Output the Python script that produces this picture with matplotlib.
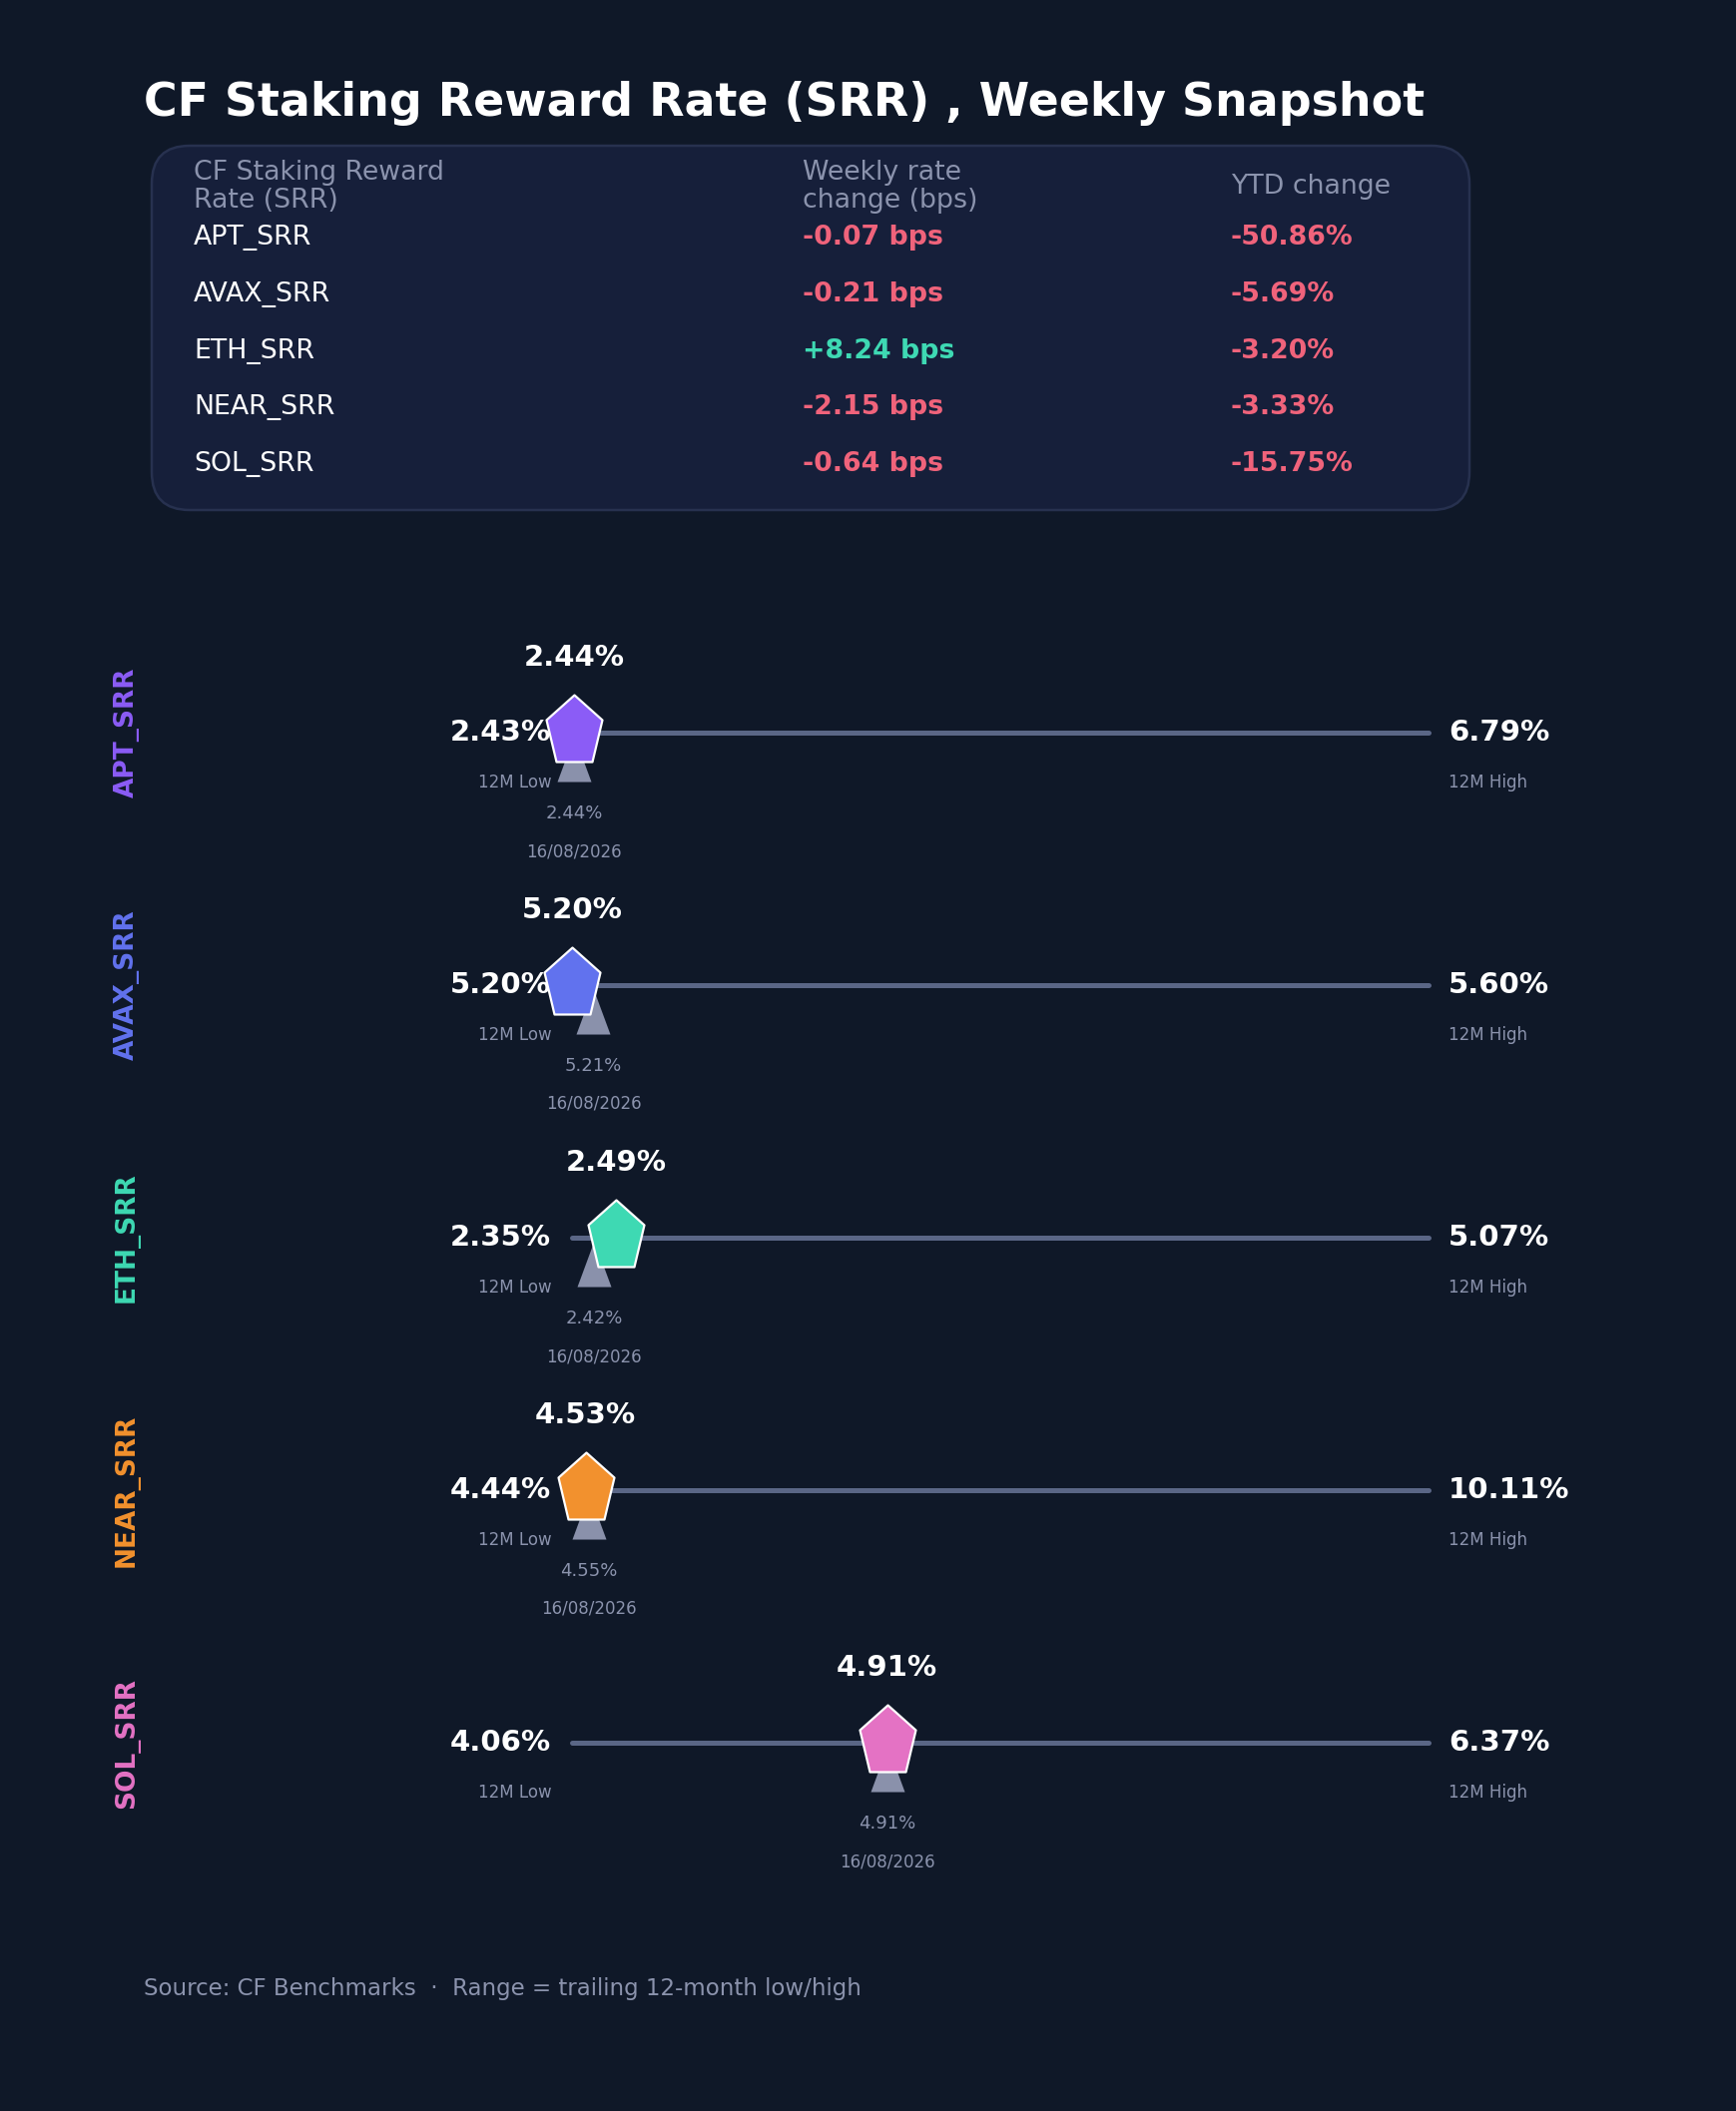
import matplotlib
matplotlib.use('Agg')
import matplotlib.pyplot as plt
from matplotlib.path import Path
from matplotlib.patches import FancyBboxPatch

# data
names = ['APT_SRR', 'AVAX_SRR', 'ETH_SRR', 'NEAR_SRR', 'SOL_SRR']
weekly_bps = [-0.07, -0.21, 8.24, -2.15, -0.64]
ytd_pct = [-50.86, -5.69, -3.20, -3.33, -15.75]
current = [2.44, 5.20, 2.49, 4.53, 4.91]
low_12m = [2.43, 5.20, 2.35, 4.44, 4.06]
high_12m = [6.79, 5.60, 5.07, 10.11, 6.37]
prev_week = [2.44, 5.21, 2.42, 4.55, 4.91]
prev_date = '16/08/2026'
table_headers = ['CF Staking Reward\nRate (SRR)', 'Weekly rate\nchange (bps)', 'YTD change']

colors = ['#8b5cf6', '#6172ee', '#3ed9b3', '#f2912e', '#e472c4']
bg = '#0f1828'
grey = '#8b93ad'
red = '#f0637b'
green = '#3ed9b3'
line_col = '#5a6686'
tri_col = '#8a91ab'

W, H = 1740, 2115
fig = plt.figure(figsize=(W / 100, H / 100), dpi=100, facecolor=bg)

# background axes in pixel units for title / table / footer
ax0 = fig.add_axes([0, 0, 1, 1])
ax0.set_xlim(0, W)
ax0.set_ylim(H, 0)
ax0.axis('off')
ax0.set_facecolor(bg)

ax0.text(144, 104, 'CF Staking Reward Rate (SRR) , Weekly Snapshot', color='white',
         fontsize=33, fontweight='bold', ha='left', va='center')

box = FancyBboxPatch((152, 146), 1320, 365, boxstyle='round,pad=0,rounding_size=38',
                     facecolor='#161f3a', edgecolor='#27314f', linewidth=1.8)
ax0.add_patch(box)

col_x = [194, 804, 1233]
for cx, h in zip(col_x, table_headers):
    ax0.text(cx, 187, h, color=grey, fontsize=19.3, ha='left', va='center', linespacing=1.15)

row_y0, row_step = 238, 56.8
for i, n in enumerate(names):
    y = row_y0 + i * row_step
    ax0.text(col_x[0], y, n, color='white', fontsize=19.3, ha='left', va='center')
    wc = green if weekly_bps[i] > 0 else red
    ax0.text(col_x[1], y, f'{weekly_bps[i]:+.2f} bps', color=wc, fontsize=19.3,
             fontweight='bold', ha='left', va='center')
    yc = green if ytd_pct[i] > 0 else red
    ax0.text(col_x[2], y, f'{ytd_pct[i]:.2f}%', color=yc, fontsize=19.3,
             fontweight='bold', ha='left', va='center')

ax0.text(144, 1992, 'Source: CF Benchmarks  \u00b7  Range = trailing 12-month low/high',
         color=grey, fontsize=16.5, ha='left', va='center')

# custom markers (shape only, in pixel-like units)
pent = Path([(0, 38), (28, 13), (18, -29), (-18, -29), (-28, 13), (0, 38)], closed=True)
tri = Path([(0, -3), (17, -49), (-17, -49), (0, -3)], closed=True)

line_y0, line_step = 734, 253
x_left, x_right = 573, 1431
half = 140
for i, n in enumerate(names):
    ly = line_y0 + i * line_step
    ax = fig.add_axes([x_left / W, 1 - (ly + half) / H, (x_right - x_left) / W, 2 * half / H])
    ax.set_xlim(low_12m[i], high_12m[i])
    ax.set_ylim(half, -half)
    ax.axis('off')
    ax.patch.set_alpha(0)

    ax.plot([low_12m[i], high_12m[i]], [0, 0], color=line_col, lw=3.6,
            solid_capstyle='round', zorder=1, clip_on=False)
    ax.plot(prev_week[i], 0, marker=tri, ms=70.6, color=tri_col, mew=0,
            zorder=3, clip_on=False)
    ax.plot(current[i], 0, marker=pent, ms=54.7, mfc=colors[i], mec='white',
            mew=1.6, zorder=5, clip_on=False)

    kw = dict(textcoords='offset pixels', va='center', annotation_clip=False)
    ax.annotate(f'{current[i]:.2f}%', xy=(current[i], 0), xytext=(0, 75), ha='center',
                color='white', fontsize=21, fontweight='bold', zorder=6, **kw)
    ax.annotate(f'{low_12m[i]:.2f}%', xy=(low_12m[i], 0), xytext=(-21, 0), ha='right',
                color='white', fontsize=21, fontweight='bold', zorder=2, **kw)
    ax.annotate('12M Low', xy=(low_12m[i], 0), xytext=(-20, -50), ha='right',
                color=grey, fontsize=12, **kw)
    ax.annotate(f'{high_12m[i]:.2f}%', xy=(high_12m[i], 0), xytext=(20, 0), ha='left',
                color='white', fontsize=21, fontweight='bold', **kw)
    ax.annotate('12M High', xy=(high_12m[i], 0), xytext=(20, -50), ha='left',
                color=grey, fontsize=12, **kw)
    ax.annotate(f'{prev_week[i]:.2f}%', xy=(prev_week[i], 0), xytext=(0, -81), ha='center',
                color=grey, fontsize=13, **kw)
    ax.annotate(prev_date, xy=(prev_week[i], 0), xytext=(0, -119), ha='center',
                color=grey, fontsize=12, **kw)

    fig.text(127 / W, 1 - ly / H, n, rotation=90, ha='center', va='center',
             color=colors[i], fontsize=19, fontweight='bold')

fig.savefig('out.png', dpi=100, facecolor=bg)
